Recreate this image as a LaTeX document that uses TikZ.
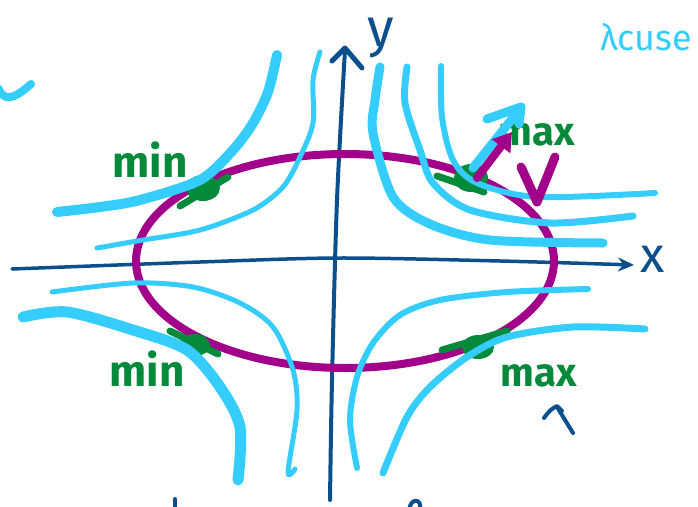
\documentclass[tikz,border=0pt]{standalone}
\usepackage{fontspec}
\setmainfont{Fira Sans}
\usetikzlibrary{arrows.meta}
\definecolor{lvlblue}{HTML}{35CDFE}
\definecolor{axisblue}{HTML}{0B4F8C}
\definecolor{boundpurple}{HTML}{A2008B}
\definecolor{extgreen}{HTML}{05893A}

\begin{document}
\begin{tikzpicture}[x=1pt, y=-1pt, line cap=round, line join=round,
    axisline/.style={draw=axisblue, line width=4pt},
    levelline/.style={draw=lvlblue, line width=#1},
    levelline/.default=7pt,
    blob/.style={fill=extgreen},
    blobline/.style={draw=extgreen, line width=7pt},
    extlbl/.style={text=extgreen, inner sep=0pt, font=\fontsize{44}{50}\selectfont\bfseries}]
  \useasboundingbox (0,0) rectangle (698,506);
  \clip (0,0) rectangle (698,506);

  % axes
  \draw[axisline, line width=3.5pt, -{Stealth[length=16pt,width=14pt]}]
    plot[smooth] coordinates {(12,269) (200,262) (340,258) (500,261) (634,265)};
  \draw[axisline] plot[smooth] coordinates {(330,500) (332,380) (337,200) (345,50)};
  \draw[axisline, line width=5pt] (332,61) -- (345,48) -- (362,68);
  \node[text=axisblue, font=\fontsize{50}{54}\selectfont, inner sep=0pt] (xlbl) at (653,259) {x};
  \node[text=axisblue, font=\fontsize{54}{60}\selectfont, inner sep=0pt] (ylbl) at (381,38) {y};

  % constraint ellipse
  \draw[boundpurple, line width=8pt] (345,261) ellipse [x radius=209pt, y radius=107pt];

  % extremum points
  \fill[blob] (203,188) ellipse [x radius=17pt, y radius=13pt];
  \draw[blobline] (180,206) -- (228,177);
  \fill[blob] (471,178) ellipse [x radius=17pt, y radius=14pt];
  \draw[blobline] (437,176) -- (484,192);
  \fill[blob] (195,345) ellipse [x radius=15pt, y radius=11pt];
  \draw[blobline] (170,331) -- (218,354);
  \fill[blob] (478,347) ellipse [x radius=16pt, y radius=12pt];
  \draw[blobline] (442,350) -- (507,331);

  \node[extlbl] (minup) at (150,160) {min};
  \node[extlbl] (mindown) at (147,369) {min};
  \node[extlbl, font=\fontsize{40}{46}\selectfont\bfseries] (maxup) at (537,135) {max};
  \node[extlbl, font=\fontsize{40}{46}\selectfont\bfseries] (maxdown) at (539,376) {max};

  % level lines
  \draw[levelline=10pt] plot[smooth] coordinates {(277,55) (268,92) (253,123) (233,150) (200,180) (140,200) (100,207) (57,212)};
  \draw[levelline=5pt] plot[smooth] coordinates {(320,52) (313,80) (313,123) (300,157) (283,187) (253,210) (200,230) (143,240) (97,248)};
  \draw[levelline=9pt] plot[smooth] coordinates {(380,67) (375,100) (373,133) (393,197) (430,224) (490,240) (603,243)};
  \draw[levelline=7pt] plot[smooth] coordinates {(407,67) (405,103) (420,150) (433,183) (470,210) (550,223) (633,216)};
  \draw[levelline=6pt] plot[smooth] coordinates {(441,66) (442,117) (453,160) (477,183) (537,197) (655,193)};
  \draw[levelline=5pt] plot[smooth] coordinates {(52,292) (133,283) (193,287) (240,303) (273,327) (293,370) (297,410) (288,472) (295,469)};
  \draw[levelline=11pt] plot[smooth] coordinates {(23,317) (67,312) (133,330) (187,350) (220,387) (240,427) (238,480)};
  \draw[levelline=6pt] plot[smooth] coordinates {(588,289) (507,292) (440,300) (400,315) (373,343) (357,377) (350,420) (357,468)};
  \draw[levelline=7pt] plot[smooth] coordinates {(645,329) (573,327) (507,337) (467,357) (430,387) (407,417) (383,473)};
  \draw[levelline=8pt] (-2,88) .. controls (4,101) and (12,101) .. (31,84);

  % gradients at the upper max
  \draw[levelline=9pt] (473,168) -- (520,109);
  \draw[levelline=9pt] (487,119) -- (521,107) -- (519,124);
  \draw[boundpurple, line width=8pt, -{Triangle[length=18pt,width=22pt]}] (477,178) -- (512,132);
  \draw[boundpurple, line width=9pt] (521,167) -- (537,202) -- (555,157);

  \node[text=lvlblue, anchor=base west, inner sep=0pt, font=\fontsize{36}{42}\selectfont] (lamlbl) at (600,50) {λcuse};

  % small strokes
  \draw[axisline] (544,418) .. controls (550,410) .. (557,406) -- (562,411);
  \draw[axisline] (557,407) -- (573,433);
  \draw[axisline] (175,499) -- (175,510);
  \draw[axisline] (410,506) .. controls (413,498) and (422,499) .. (420,510);
\end{tikzpicture}
\end{document}
